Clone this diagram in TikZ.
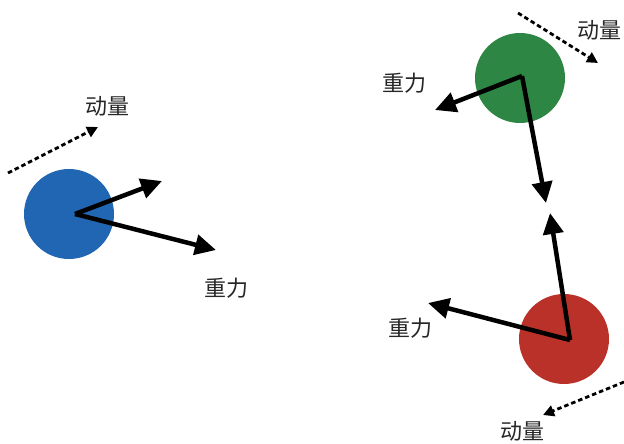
\documentclass[tikz,border=0pt]{standalone}
\usepackage{fontspec}
\newfontfamily\cjk{Noto Sans CJK SC}
\usetikzlibrary{arrows.meta}
\definecolor{ballblue}{RGB}{33,102,178}
\definecolor{ballgreen}{RGB}{46,134,68}
\definecolor{ballred}{RGB}{185,49,40}
\tikzset{
  ball/.style={circle, minimum size=90pt, inner sep=0pt, draw=none},
  force/.style={line width=4.5pt, -{Triangle[length=21pt,width=20pt]}, line join=miter},
  momentum/.style={line width=2.8pt, dash pattern=on 4.5pt off 3pt, -{Triangle[length=11pt,width=11pt]}},
  lab/.style={font=\cjk\fontsize{22pt}{24pt}\selectfont, inner sep=0pt, text=black!85}
}
\begin{document}
\begin{tikzpicture}[x=1pt,y=-1pt]
\useasboundingbox (0,0) rectangle (624,444);
% blue
\node[ball, fill=ballblue] (B) at (69,214) {};
\coordinate (Bc) at (75,214);
\coordinate (Bv) at (162,181);
\coordinate (Bg) at (216,250);
\coordinate (Bm0) at (8,173);
\coordinate (Bm1) at (98,127);
\draw[force] (Bc) -- (Bv);
\draw[force] (Bc) -- (Bg);
\draw[momentum] (Bm0) -- (Bm1);
\node[lab] (BmL) at (107,106) {动量};
\node[lab] (BgL) at (226,288) {重力};
% green
\node[ball, fill=ballgreen] (G) at (520,78) {};
\coordinate (Gc) at (522,76);
\coordinate (Gg) at (435,110);
\coordinate (Gv) at (546,203);
\coordinate (Gm0) at (518,13);
\coordinate (Gm1) at (598,63);
\draw[force] (Gc) -- (Gg);
\draw[force] (Gc) -- (Gv);
\draw[momentum] (Gm0) -- (Gm1);
\node[lab] (GmL) at (599,30) {动量};
\node[lab] (GgL) at (404,83) {重力};
% red
\node[ball, fill=ballred] (R) at (564,339) {};
\coordinate (Rc) at (570,340);
\coordinate (Rg) at (428,303);
\coordinate (Rv) at (550,213);
\coordinate (Rm0) at (624,382);
\coordinate (Rm1) at (543,415);
\draw[force] (Rc) -- (Rg);
\draw[force] (Rc) -- (Rv);
\draw[momentum] (Rm0) -- (Rm1);
\node[lab] (RmL) at (522,431) {动量};
\node[lab] (RgL) at (410,328) {重力};
\end{tikzpicture}
\end{document}
